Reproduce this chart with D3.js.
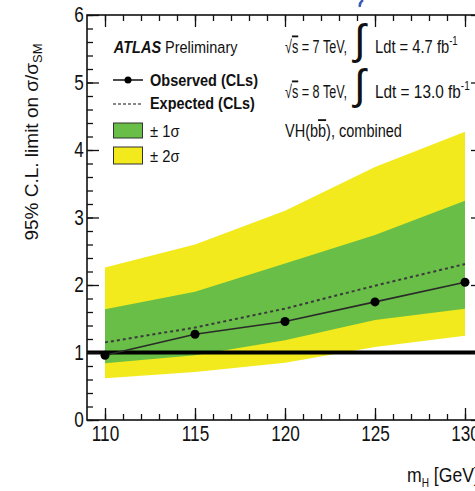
<!DOCTYPE html>
<html>
<head>
<meta charset="utf-8">
<script src="https://cdn.jsdelivr.net/npm/d3@7"></script>
<style>
  body { margin: 0; background: #fff; }
  svg { display: block; }
  text { font-family: 'Liberation Sans', Arial, sans-serif; fill: #111; }
</style>
</head>
<body>
<script>
// Higgs mass points (GeV)
const masses = [110, 115, 120, 125, 130]
// 95% CL limits on sigma/sigma_SM
const observed = [0.96, 1.27, 1.46, 1.75, 2.04]
const expected = [1.15, 1.37, 1.65, 1.99, 2.31]
const plus1 = [1.64, 1.90, 2.32, 2.74, 3.25]
const minus1 = [0.84, 0.96, 1.18, 1.48, 1.65]
const plus2 = [2.26, 2.60, 3.10, 3.75, 4.27]
const minus2 = [0.62, 0.71, 0.85, 1.08, 1.25]
const xTicks = [110, 115, 120, 125, 130]
const yTicks = [0, 1, 2, 3, 4, 5, 6]

const width = 475
const height = 491
const green = '#68be47'
const yellow = '#f2ea1c'

const svg = d3.select('body').append('svg')
  .attr('width', width)
  .attr('height', height)

const x = d3.scaleLinear().domain([109, 131]).range([87, 483])
const y = d3.scaleLinear().domain([0, 6]).range([420, 15])

const pts = masses.map((m, i) => ({
  m: m, obs: observed[i], exp: expected[i],
  p1: plus1[i], m1: minus1[i], p2: plus2[i], m2: minus2[i]
}))

// bands
svg.append('path')
  .datum(pts)
  .attr('fill', yellow)
  .attr('d', d3.area().x(d => x(d.m)).y0(d => y(d.m2)).y1(d => y(d.p2)))
svg.append('path')
  .datum(pts)
  .attr('fill', green)
  .attr('d', d3.area().x(d => x(d.m)).y0(d => y(d.m1)).y1(d => y(d.p1)))

// expected (dotted)
svg.append('path')
  .datum(pts)
  .attr('fill', 'none')
  .attr('stroke', '#3a3a3a')
  .attr('stroke-width', 2)
  .attr('stroke-dasharray', '3,3')
  .attr('d', d3.line().x(d => x(d.m)).y(d => y(d.exp)))

// line at 1
svg.append('line')
  .attr('x1', x(109)).attr('x2', x(131))
  .attr('y1', y(1)).attr('y2', y(1))
  .attr('stroke', '#000')
  .attr('stroke-width', 4)

// observed
svg.append('path')
  .datum(pts)
  .attr('fill', 'none')
  .attr('stroke', '#2a2a2a')
  .attr('stroke-width', 1.6)
  .attr('d', d3.line().x(d => x(d.m)).y(d => y(d.obs)))
svg.selectAll('circle.obs')
  .data(pts)
  .enter()
  .append('circle')
  .attr('class', 'obs')
  .attr('cx', d => x(d.m))
  .attr('cy', d => y(d.obs))
  .attr('r', 4.5)
  .attr('fill', '#000')

// axes: ticks inside the frame on all four sides
const minorX = d3.range(110, 131, 1)
const minorY = d3.range(0, 6.01, 0.2)

function ticks(axis, vals, size, labels) {
  return axis.tickValues(vals).tickSize(size).tickPadding(labels ? 6 : 0)
    .tickFormat(labels ? d3.format('d') : '')
}

const gB = svg.append('g').attr('transform', 'translate(0,' + y(0) + ')')
gB.call(ticks(d3.axisBottom(x), minorX, -6, false))
gB.append('g').call(ticks(d3.axisBottom(x), xTicks, -12, true))
const gT = svg.append('g').attr('transform', 'translate(0,' + y(6) + ')')
gT.call(ticks(d3.axisTop(x), minorX, -6, false))
gT.append('g').call(ticks(d3.axisTop(x), xTicks, -12, false))
const gL = svg.append('g').attr('transform', 'translate(' + x(109) + ',0)')
gL.call(ticks(d3.axisLeft(y), minorY, -6, false))
gL.append('g').call(ticks(d3.axisLeft(y), yTicks, -12, true).tickPadding(4))
const gR = svg.append('g').attr('transform', 'translate(' + x(131) + ',0)')
gR.call(ticks(d3.axisRight(y), minorY, -6, false))
gR.append('g').call(ticks(d3.axisRight(y), yTicks, -12, false))

svg.selectAll('.domain').remove()
svg.selectAll('.tick line').attr('stroke', '#111').attr('stroke-width', 1.3)
svg.selectAll('.tick text')
  .attr('font-family', "'Liberation Sans', Arial, sans-serif")
  .attr('font-size', 21.5)
  .attr('fill', '#111')
  .attr('transform', 'scale(0.8,1)')

// frame
svg.append('rect')
  .attr('x', x(109)).attr('y', y(6))
  .attr('width', x(131) - x(109)).attr('height', y(0) - y(6))
  .attr('fill', 'none')
  .attr('stroke', '#111')
  .attr('stroke-width', 1.6)

// axis titles
const yt = svg.append('text')
  .attr('transform', 'translate(38,142) rotate(-90)')
  .attr('text-anchor', 'middle')
  .attr('font-size', 19)
yt.append('tspan').text('95% C.L. limit on σ/σ')
yt.append('tspan').attr('font-size', 13).attr('dy', 4).text('SM')

// squeeze a text group horizontally so it spans x0..x1 (narrow font look)
function label(yb, size) {
  const g = svg.append('g')
  const t = g.append('text').attr('x', 0).attr('y', yb).attr('font-size', size)
  return { g: g, t: t }
}
function fit(l, x0, x1) {
  const bb = l.g.node().getBBox()
  const s = (x1 - x0) / bb.width
  l.g.attr('transform', 'translate(' + (x0 - bb.x * s) + ',0) scale(' + s + ',1)')
}

const xt = label(482, 21)
xt.t.append('tspan').text('m')
xt.t.append('tspan').attr('font-size', 12).attr('dy', 5).text('H')
xt.t.append('tspan').attr('dy', -5).text(' [GeV]')
xt.g.attr('transform', 'translate(407,0) scale(0.84,1)')

// legend
const l0 = label(53, 17)
l0.t.append('tspan').attr('font-weight', 'bold').attr('font-style', 'italic').text('ATLAS')
l0.t.append('tspan').text(' Preliminary')
fit(l0, 113, 238)

svg.append('line').attr('x1', 113).attr('x2', 143).attr('y1', 80).attr('y2', 80)
  .attr('stroke', '#111').attr('stroke-width', 1.5)
svg.append('circle').attr('cx', 128).attr('cy', 80).attr('r', 3.5).attr('fill', '#000')
const l1 = label(86, 17)
l1.t.attr('font-weight', 'bold').text('Observed (CLs)')
fit(l1, 150, 258)

svg.append('line').attr('x1', 113).attr('x2', 143).attr('y1', 104).attr('y2', 104)
  .attr('stroke', '#111').attr('stroke-width', 1.2).attr('stroke-dasharray', '3,2')
const l2 = label(109, 17)
l2.t.attr('font-weight', 'bold').text('Expected (CLs)')
fit(l2, 150, 255)

svg.append('rect').attr('x', 113.5).attr('y', 123).attr('width', 29).attr('height', 15)
  .attr('fill', green).attr('stroke', '#333').attr('stroke-width', 1)
const l3 = label(137, 17)
l3.t.text('± 1σ')
fit(l3, 150, 180)
svg.append('rect').attr('x', 113.5).attr('y', 147).attr('width', 29).attr('height', 17)
  .attr('fill', yellow).attr('stroke', '#333').attr('stroke-width', 1)
const l4 = label(162, 17)
l4.t.text('± 2σ')
fit(l4, 150, 180)

// luminosity labels
function lumiLine(yb, energy, lumi, xEnd) {
  const a = label(yb, 18.5)
  a.t.append('tspan').text('√')
  a.t.append('tspan').style('text-decoration', 'overline').text('s')
  a.t.append('tspan').text(' = ' + energy + ' TeV,')
  fit(a, 285, 347)
  svg.append('text').attr('x', 354).attr('y', yb + 1)
    .attr('font-size', 42).text('∫')
  const b = label(yb, 18.5)
  b.t.append('tspan').text('Ldt = ' + lumi + ' fb')
  b.t.append('tspan').attr('font-size', 12).attr('dy', -8).text('-1')
  fit(b, 375, xEnd)
}
lumiLine(53, 7, '4.7', 458)
lumiLine(98, 8, '13.0', 470)

const vh = label(137, 18.5)
vh.t.append('tspan').text('VH(b')
vh.t.append('tspan').style('text-decoration', 'overline').text('b')
vh.t.append('tspan').text('), combined')
fit(vh, 285, 402)

// small blue mark cut at top edge
svg.append('path')
  .attr('d', 'M363,0 Q359,3 360,7')
  .attr('fill', 'none').attr('stroke', '#3b5bb5').attr('stroke-width', 2.5)
</script>
</body>
</html>
